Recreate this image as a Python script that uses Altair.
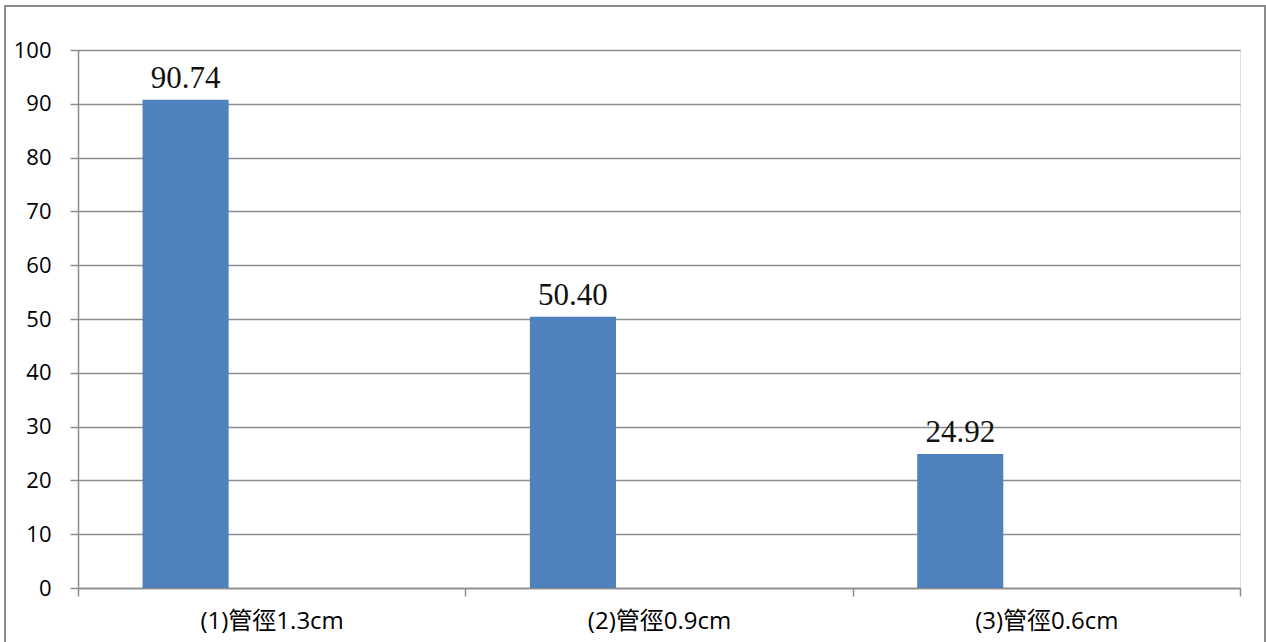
import altair as alt
import pandas as pd

categories = ["(1)管徑1.3cm", "(2)管徑0.9cm", "(3)管徑0.6cm"]
values = [90.74, 50.40, 24.92]
value_labels = ["90.74", "50.40", "24.92"]
series_slots = ["s1", "s2", "s3"]
y_ticks = [0, 10, 20, 30, 40, 50, 60, 70, 80, 90, 100]

df = pd.DataFrame({
    "cat": categories,
    "val": values,
    "lab": value_labels,
    "series": ["s1"] * len(categories),
})

label_font = "Open Sans, Noto Sans CJK TC"

x_enc = alt.X("cat:N", sort=categories, title=None,
              scale=alt.Scale(paddingInner=0, paddingOuter=0),
              axis=alt.Axis(labelAngle=0, tickBand="extent", domainColor="#8c8c8c",
                            domainWidth=1.5, tickColor="#8c8c8c", tickWidth=1.5, tickSize=8,
                            labelFont=label_font, labelFontSize=24, labelColor="#000",
                            labelPadding=13, grid=False))
xoff = alt.XOffset("series:N", scale=alt.Scale(domain=series_slots, paddingInner=0, paddingOuter=0.75))

base = alt.Chart(df)

bars = base.mark_bar(color="#4F81BD").encode(
    x=x_enc,
    xOffset=xoff,
    y=alt.Y("val:Q", title=None,
            scale=alt.Scale(domain=[0, 100], nice=False),
            axis=alt.Axis(values=y_ticks, domainColor="#8c8c8c", domainWidth=1.5,
                          tickColor="#8c8c8c", tickWidth=1.5, tickSize=8,
                          gridColor="#8c8c8c", gridWidth=1.5,
                          labelFont=label_font, labelFontSize=22, labelColor="#000",
                          labelPadding=19)),
)

texts = base.mark_text(font="Liberation Serif", fontSize=31, color="#111", baseline="alphabetic", dy=-12).encode(
    x=alt.X("cat:N", sort=categories),
    xOffset=xoff,
    y="val:Q",
    text="lab:N",
)

frame = alt.Chart(pd.DataFrame({"f": [0]})).mark_rect(fill=None, stroke="#8c8c8c", strokeWidth=2).encode(
    x=alt.value(-73), x2=alt.value(1187), y=alt.value(-44), y2=alt.value(600)
)

chart = alt.layer(bars, texts, frame).properties(
    width=1162, height=538,
    autosize=alt.AutoSizeParams(type="none"),
    padding={"left": 78, "top": 50, "right": 26, "bottom": 54},
).configure_view(stroke=None).configure(background="white")

chart.save("out.html", embed_options={"renderer": "svg", "actions": False})
